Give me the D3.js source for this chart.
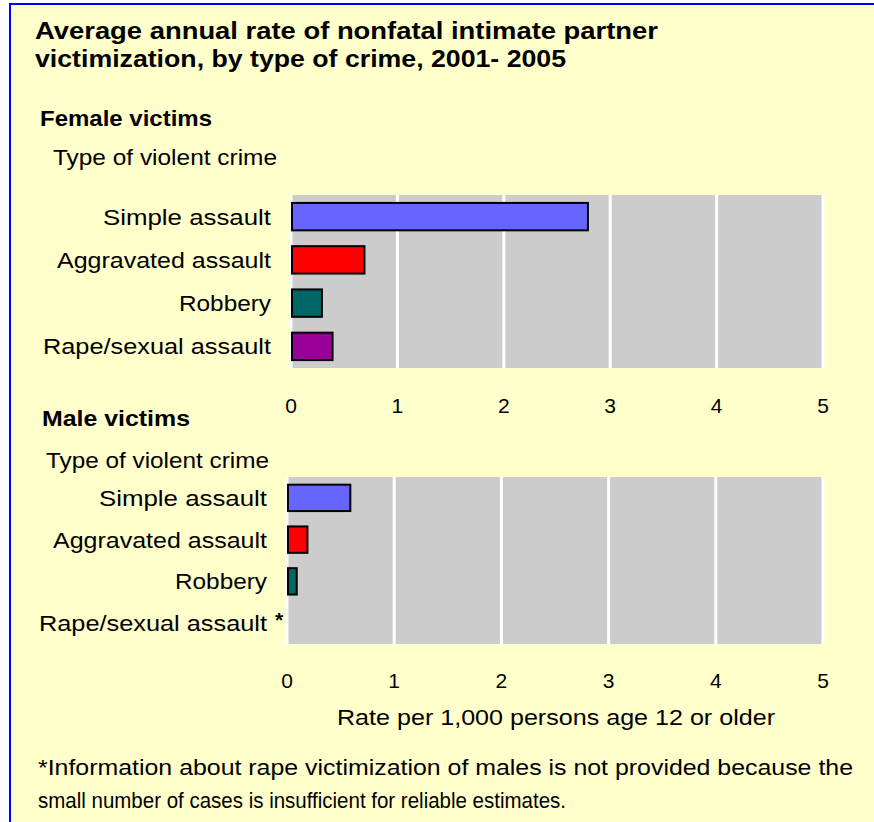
<!DOCTYPE html>
<html>
<head>
<meta charset="utf-8">
<script src="https://cdn.jsdelivr.net/npm/d3@7/dist/d3.min.js"></script>
<style>
  body { margin: 0; background: #ffffff; }
  text { font-family: Arial, "Liberation Sans", sans-serif; fill: #000; }
</style>
</head>
<body>
<div id="chart"></div>
<script>
// data
const categories = ["Simple assault", "Aggravated assault", "Robbery", "Rape/sexual assault"];
const femaleRates = [2.8, 0.7, 0.3, 0.4];
const maleRates = [0.6, 0.2, 0.1, null]; // rape/sexual assault for males not provided
const barColors = ["#6666ff", "#ff0000", "#006666", "#990099"];
const rateTicks = [0, 1, 2, 3, 4, 5];

const titleLines = ["Average annual rate of nonfatal intimate partner",
                    "victimization, by type of crime, 2001- 2005"];
const footLines = ["*Information about rape victimization of males is not provided because the",
                   "small number of cases is insufficient for reliable estimates."];

// measured text widths so the narrow original lettering lines up
const labelWidths = [168, 214, 92, 228];

const svg = d3.select("#chart")
  .append("svg")
  .attr("width", 874)
  .attr("height", 822);

// yellow box with the blue frame
svg.append("rect")
  .attr("x", 10).attr("y", 4)
  .attr("width", 900).attr("height", 840)
  .attr("fill", "#ffffcc")
  .attr("stroke", "#0000ff")
  .attr("stroke-width", 2);

function txt(s, x, y, w, size, bold, anchor) {
  const t = svg.append("text")
    .attr("x", x).attr("y", y)
    .attr("font-size", size)
    .attr("font-weight", bold ? "bold" : "normal")
    .attr("text-anchor", anchor || "start")
    .text(s);
  if (w) t.attr("textLength", w).attr("lengthAdjust", "spacingAndGlyphs");
  return t;
}

txt(titleLines[0], 35, 39, 623, 24, true);
txt(titleLines[1], 35, 67, 531, 24, true);

function drawPanel(p) {
  const x = d3.scaleLinear().domain([0, 5]).range([p.left, p.right]);
  const y = d3.scaleBand()
    .domain(categories)
    .range([p.top, p.bottom])
    .paddingInner(0.32)
    .paddingOuter(0.16);

  const g = svg.append("g");

  // plot background
  g.append("rect")
    .attr("x", x(0)).attr("y", p.top)
    .attr("width", x(5) - x(0)).attr("height", p.bottom - p.top)
    .attr("fill", "#cccccc");

  // white grid lines
  g.selectAll("line.grid")
    .data(rateTicks)
    .enter()
    .append("line")
    .attr("class", "grid")
    .attr("x1", d => x(d)).attr("x2", d => x(d))
    .attr("y1", p.top).attr("y2", p.bottom)
    .attr("stroke", "#ffffff")
    .attr("stroke-width", 3);

  const rows = categories.map((c, i) => ({ name: c, value: p.values[i], color: barColors[i] }));

  g.selectAll("rect.bar")
    .data(rows.filter(d => d.value != null))
    .enter()
    .append("rect")
    .attr("class", "bar")
    .attr("x", x(0) + 1)
    .attr("y", d => y(d.name) + 1)
    .attr("width", d => x(d.value) - x(0) - 2)
    .attr("height", y.bandwidth() - 2)
    .attr("fill", d => d.color)
    .attr("stroke", "#000")
    .attr("stroke-width", 2);

  // category labels, right aligned
  rows.forEach((d, i) => {
    txt(d.name, p.labelRight - labelWidths[i], y(d.name) + y.bandwidth() / 2 + 8, labelWidths[i], 22, false);
  });

  // tick labels
  rateTicks.forEach(t => {
    txt(String(t), x(t), p.tickBase, null, 21, false, "middle");
  });

  return { x, y };
}

// female panel
txt("Female victims", 40, 126, 172, 22, true);
txt("Type of violent crime", 53, 165, 224, 22, false);
drawPanel({ left: 291, right: 823, top: 195, bottom: 368, values: femaleRates, labelRight: 271, tickBase: 413 });

// male panel
txt("Male victims", 42, 426, 148, 22, true);
txt("Type of violent crime", 46, 468, 223, 22, false);
const male = drawPanel({ left: 287, right: 823, top: 477, bottom: 644, values: maleRates, labelRight: 267, tickBase: 688 });

// asterisk marking the missing male value
txt("*", 275, male.y(categories[3]) + 18, null, 21, true);

txt("Rate per 1,000 persons age 12 or older", 337, 725, 438, 22, false);

txt(footLines[0], 38, 775, 815, 22, false);
txt(footLines[1], 38, 808, 528, 22, false);
</script>
</body>
</html>
